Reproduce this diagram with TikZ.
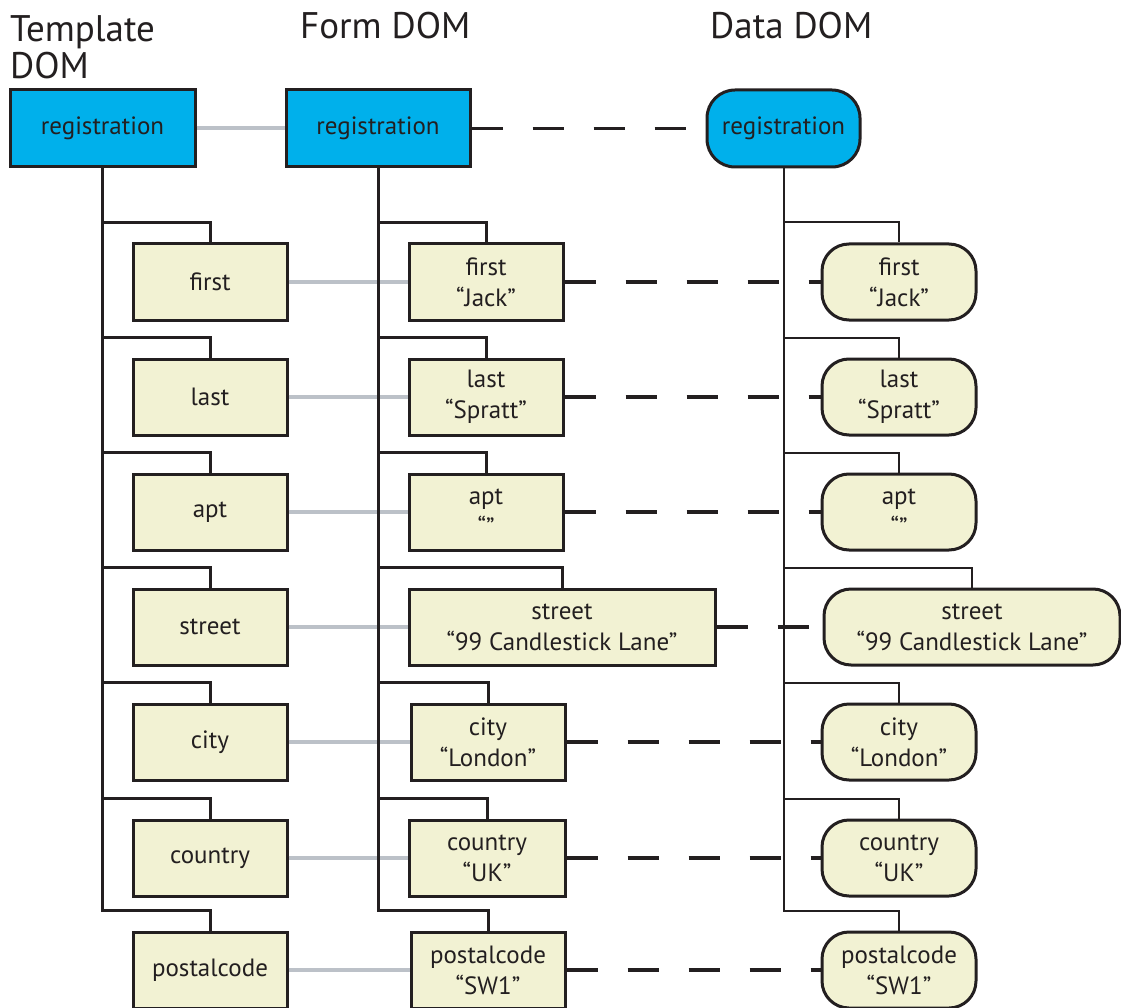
\documentclass[tikz,border=0pt]{standalone}
\usepackage{fontspec}
\setmainfont{PT Sans}
\definecolor{domblue}{HTML}{00B0EB}
\definecolor{domcream}{HTML}{F2F2D3}
\definecolor{linkgray}{HTML}{BCC1C8}
\definecolor{ink}{HTML}{231F20}
\begin{document}
\begin{tikzpicture}[x=1pt, y=-1pt, font=\fontsize{25}{31}\selectfont,
    title/.style={font=\fontsize{37}{37}\selectfont, inner sep=0pt, align=left, text=ink},
    tbox/.style={draw=ink, line width=3pt, fill=domcream, minimum width=154pt, minimum height=76pt, inner sep=0pt, align=center, text=ink},
    dbox/.style={tbox, rounded corners=27pt},
    tree/.style={draw=ink, line width=3pt},
    dtree/.style={draw=ink, line width=2pt},
    glink/.style={draw=linkgray, line width=4pt},
    dlink/.style={draw=ink, line width=3.5pt, dash pattern=on 31pt off 30pt}]
  \useasboundingbox (0,0) rectangle (1121,1008);
  % column titles
  \node[title, anchor=base west] (ttitle) at (10,79) {Template\\DOM};
  \node[title, anchor=base west] (ftitle) at (300,39) {Form DOM};
  \node[title, anchor=base west] (dtitle) at (710,39) {Data DOM};
  % roots
  \node[tbox, fill=domblue, minimum width=185pt, minimum height=77pt] (t0) at (102.5,128.5) {registration};
  \node[tbox, fill=domblue, minimum width=184pt, minimum height=77pt] (f0) at (378,128.5) {registration};
  \node[dbox, fill=domblue, rounded corners=28pt, minimum width=153pt, minimum height=77pt] (d0) at (783.5,128.5) {registration};
  \draw[glink] (t0.east) -- (f0.west);
  \draw[dlink] (f0.east) -- (d0.west);
  % children
  \foreach \n/\lab/\val/\y/\fx/\fw/\dx/\dw in {1/first/Jack/282/486/154/899/154,
      2/last/Spratt/397/486/154/899/154, 3/apt//512/486/154/899/154,
      4/street/99 Candlestick Lane/627/562/306/972/296, 5/city/London/742/488/154/899/154,
      6/country/UK/858/487/156/899/154, 7/postalcode/SW1/970/488/154/899/154}{
    \node[tbox] (t\n) at (210,\y) {\lab};
    \node[tbox, minimum width=\fw pt] (f\n) at (\fx,\y) {\lab\\“\val”};
    \node[dbox, minimum width=\dw pt] (d\n) at (\dx,\y) {\lab\\“\val”};
    \draw[tree] (t0.south) |- ([yshift=20pt]t\n.north) -- (t\n.north);
    \draw[tree] (f0.south) |- ([yshift=20pt]f\n.north) -- (f\n.north);
    \draw[dtree] (d0.south) |- ([yshift=20pt]d\n.north) -- (d\n.north);
    \draw[glink] (t\n.east) -- (f\n.west);
    \draw[dlink] (f\n.east) -- (d\n.west);
  }
\end{tikzpicture}
\end{document}
